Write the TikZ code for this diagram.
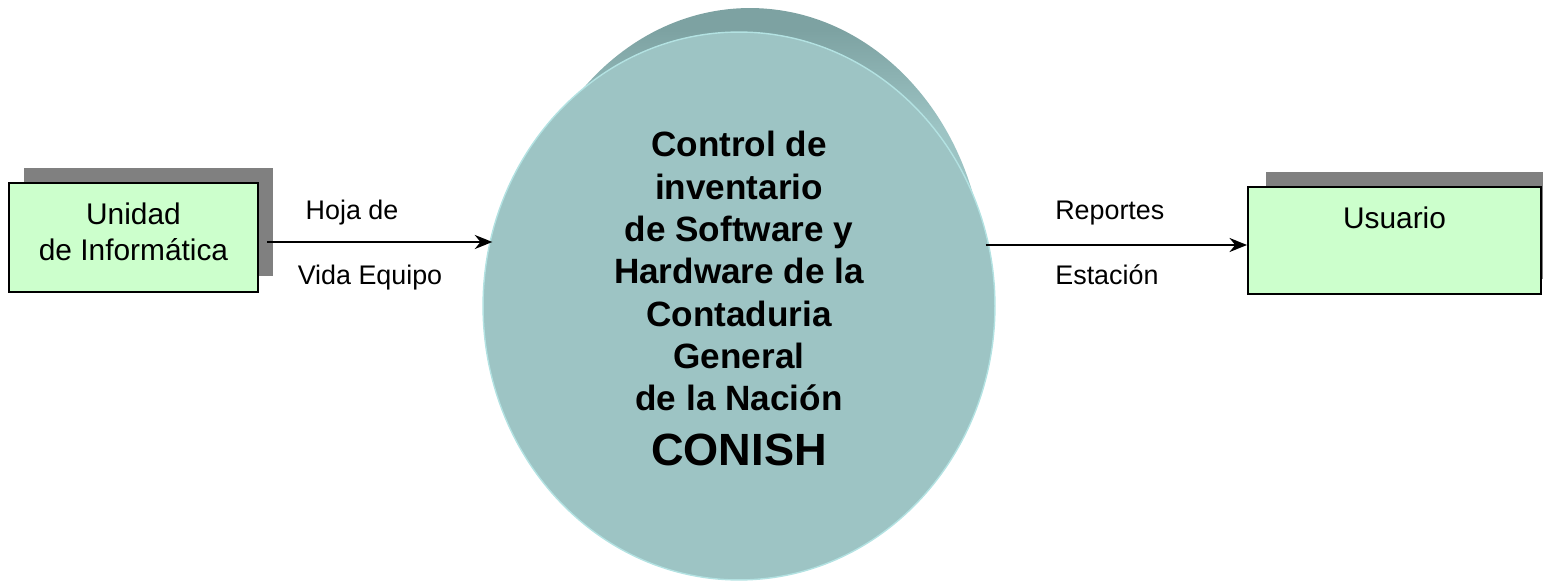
\documentclass[tikz,border=0pt]{standalone}
\usepackage{fontspec}
\setmainfont{Liberation Sans}
\usetikzlibrary{shapes.geometric}
\usetikzlibrary{shadows}
\usetikzlibrary{arrows.meta}
\definecolor{entityfill}{HTML}{CCFFCC}
\definecolor{entityshadow}{HTML}{808080}
\definecolor{processfill}{HTML}{9DC4C4}
\definecolor{processtop}{HTML}{7DA2A2}
\definecolor{processedge}{HTML}{B3E2E2}
\pgfdeclareverticalshading{processback}{100bp}{color(0bp)=(processfill); color(64bp)=(processfill); color(73bp)=(processtop); color(100bp)=(processtop)}
\tikzstyle{entity}=[draw, fill=entityfill, line width=1.1pt, inner sep=0pt, align=center, font=\fontsize{17}{20.5}\selectfont]
\tikzstyle{process}=[ellipse, fill=processfill, draw=processedge, line width=0.8pt, inner sep=0pt]
\tikzstyle{process text}=[align=center, inner sep=0pt, font=\bfseries\fontsize{20}{24.1}\selectfont]
\tikzstyle{flow}=[line width=1.1pt, -{Stealth[length=10pt,width=8pt]}]
\tikzstyle{flow label}=[anchor=base, inner sep=0pt, font=\fontsize{15.3}{18}\selectfont]

\begin{document}
\begin{tikzpicture}[x=0.02cm, y=-0.02cm]
  \useasboundingbox (0,0) rectangle (1543,581);
  \shade[shading=processback] (750,280) ellipse [x radius=4.7cm, y radius=5.44cm];
  \node[process, minimum width=10.24cm, minimum height=10.96cm] (proc) at (739,306) {};
  \node[process text] (conish) at (739,298.5) {Control de\\inventario\\de Software y\\Hardware de la\\Contaduria\\General\\de la Nación\\[7pt]{\fontsize{25.7}{30}\selectfont CONISH}};
  \node[entity, minimum width=4.98cm, minimum height=2.18cm, text depth=0.23cm,
    drop shadow={shadow xshift=0.3cm, shadow yshift=0.31cm, fill=entityshadow, opacity=1}]
    (unidad) at (133.5,237.5) {Unidad\\de Informática};
  \node[entity, minimum width=5.86cm, minimum height=2.14cm, text depth=0.9cm,
    drop shadow={shadow xshift=0.36cm, shadow yshift=0.3cm, fill=entityshadow, opacity=1}]
    (usuario) at (1394.5,240.5) {Usuario};
  \draw[flow] ([xshift=0.17cm, yshift=-0.09cm]unidad.east)
    -- node[flow label, pos=0.376, yshift=0.46cm] {Hoja de}
       node[flow label, pos=0.456, yshift=-0.86cm] {Vida Equipo}
    ([xshift=0.2cm, yshift=-0.09cm]proc.west |- unidad.east);
  \draw[flow] ([xshift=-0.2cm, yshift=-0.09cm]proc.east |- usuario.west)
    -- node[flow label, pos=0.475, yshift=0.51cm] {Reportes}
       node[flow label, pos=0.464, yshift=-0.8cm] {Estación}
    ([yshift=-0.09cm]usuario.west);
\end{tikzpicture}
\end{document}
